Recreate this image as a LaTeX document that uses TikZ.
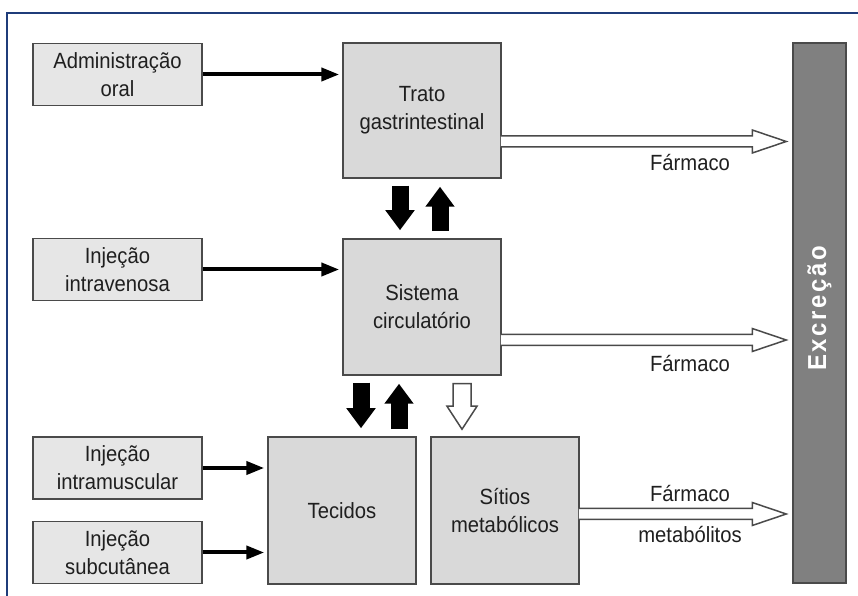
\documentclass[tikz,border=0pt]{standalone}
\usepackage{fontspec}
\setmainfont{Liberation Sans}[FakeStretch=0.92]
\usepackage{tikz}
\usetikzlibrary{arrows.meta, positioning, calc}

\definecolor{frameblue}{HTML}{1F3C7A}
\definecolor{boxfill}{HTML}{D9D9D9}
\definecolor{srcfill}{HTML}{E6E6E6}
\definecolor{edge}{HTML}{4A4A4A}
\definecolor{barfill}{HTML}{808080}

% open (outlined) arrows
\newcommand{\hollowright}[2]{%
  \draw[hollow] let \p1=(#1), \p2=(#2) in
    (\x1-1pt,\y1+5.5pt) -- (\x2-40pt,\y1+5.5pt) -- (\x2-40pt,\y1+11.5pt) -- (\x2-6pt,\y1)
    -- (\x2-40pt,\y1-11.5pt) -- (\x2-40pt,\y1-5.5pt) -- (\x1-1pt,\y1-5.5pt);}
\newcommand{\hollowdown}[2]{%
  \draw[hollow] let \p1=(#1), \p2=(#2) in
    (\x1-9pt,\y1-8pt) -- (\x1-9pt,\y2+30pt) -- (\x1-15pt,\y2+30pt) -- (\x1,\y2+7pt)
    -- (\x1+15pt,\y2+30pt) -- (\x1+9pt,\y2+30pt) -- (\x1+9pt,\y1-8pt) -- cycle;}

\begin{document}
\begin{tikzpicture}[x=1pt, y=1pt,
  every node/.style={font=\fontsize{22}{28}\selectfont, text=black!88},
  src/.style={draw=edge, line width=1.5pt, fill=srcfill, minimum width=169pt, minimum height=62pt, align=center, inner sep=2pt},
  organ/.style={draw=edge, line width=1.5pt, fill=boxfill, align=center},
  thin/.style={-{Triangle[length=18pt,width=13pt]}, line width=4pt, shorten >=3pt},
  blk/.style={line width=17pt, -{Triangle[length=20pt,width=28pt]}, shorten <=7pt, shorten >=8pt},
  hollow/.style={draw=edge, line width=1.5pt, fill=white, line join=miter}]
\useasboundingbox (0,0) rectangle (858,596);

% Frame
\draw[frameblue, line width=2.2pt] (7,0) -- (7,583) -- (858,583);

% Administration routes
\foreach \name/\ypos/\txt in {oral/521.5/{Administração\\oral}, iv/326.5/{Injeção\\intravenosa}, im/128/{Injeção\\intramuscular}, sc/43.5/{Injeção\\subcutânea}} {
   \node[src] (\name) at (117.5,\ypos) {\txt};
}

% Compartments
\node[organ, minimum width=158pt, minimum height=135pt] (trato) at (422,485.5) {Trato\\gastrintestinal};
\node[organ, minimum width=158pt, minimum height=136pt] (sistema) at (422,289) {Sistema\\circulatório};
\node[organ, minimum width=148pt, minimum height=147pt] (tecidos) at (342,85.5) {Tecidos};
\node[organ, minimum width=148pt, minimum height=147pt] (sitios) at (505,85.5) {Sítios\\metabólicos};

% Excretion bar
\node[draw=edge, line width=1.5pt, fill=barfill, minimum width=53pt, minimum height=540pt] (excr) at (819.5,283) {};
\node[rotate=90, text=white, font=\fontsize{26}{26}\selectfont\bfseries\addfontfeature{LetterSpace=10}] (excrtxt) at ([yshift=4.5]excr) {Excreção};

% Entry arrows
\draw[thin] (oral.east) -- (oral.east -| trato.west);
\draw[thin] (iv.east) -- (iv.east -| sistema.west);
\draw[thin] (im.east) -- (im.east -| tecidos.west);
\draw[thin] (sc.east) -- (sc.east -| tecidos.west);

% Exchange between compartments
\draw[blk] ([xshift=-22]trato.south) -- ([xshift=-22]sistema.north);
\draw[blk] ([xshift=18]sistema.north) -- ([xshift=18]trato.south);
\draw[blk] ([xshift=-61]sistema.south) -- ([xshift=19]tecidos.north);
\draw[blk] ([xshift=57]tecidos.north) -- ([xshift=-23]sistema.south);
\hollowdown{[xshift=40]sistema.south}{sitios.north}

% Elimination
\hollowright{[yshift=-31pt]trato.east}{excr.west}
\hollowright{[yshift=-33pt]sistema.east}{excr.west}
\hollowright{[yshift=-3.5pt]sitios.east}{excr.west}
\node (farm1) at (690,433) {Fármaco};
\node (farm2) at (690,232) {Fármaco};
\node (farm3) at (690,102) {Fármaco};
\node (metab) at (690,61) {metabólitos};
\end{tikzpicture}
\end{document}
